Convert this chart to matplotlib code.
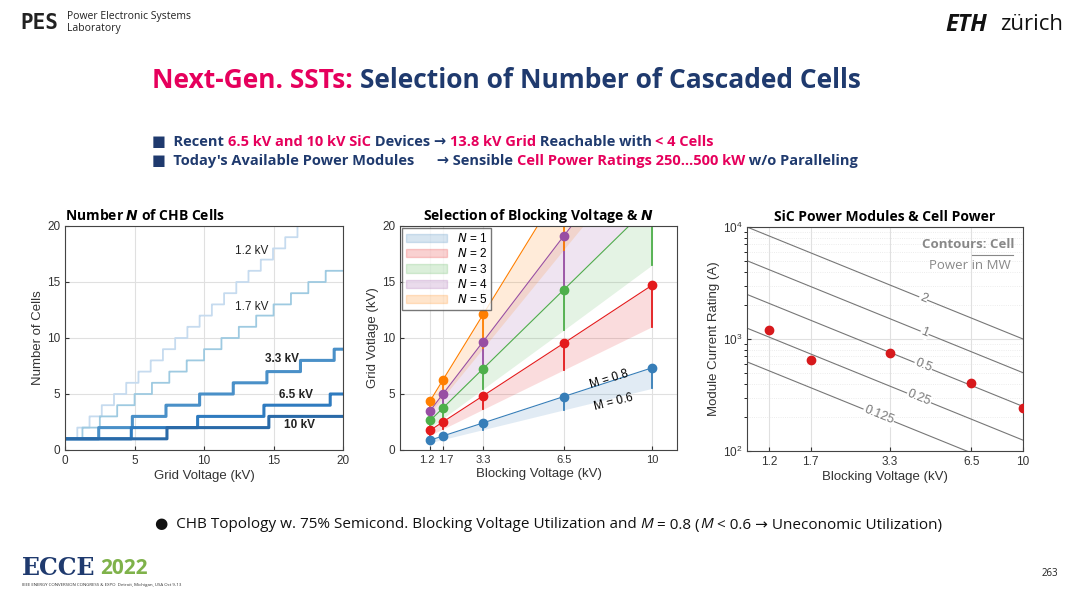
import matplotlib
matplotlib.use("Agg")
import matplotlib.pyplot as plt
import matplotlib.transforms as mtrans
import numpy as np
from matplotlib.patches import Patch

plt.rcParams['font.family'] = ['Open Sans', 'DejaVu Sans']

# ---------------- data ----------------
blocking_kv = [1.2, 1.7, 3.3, 6.5, 10]
blocking_labels = ['1.2', '1.7', '3.3', '6.5', '10']
# per-cell grid voltage (kV) at M = 0.8 (top) and M = 0.6 (bottom)
grid_top = {1: [0.88, 1.25, 2.42, 4.77, 7.33],
            2: [1.76, 2.50, 4.84, 9.53, 14.7],
            3: [2.64, 3.74, 7.26, 14.3, 22.0],
            4: [3.52, 4.99, 9.68, 19.1, 29.3],
            5: [4.40, 6.24, 12.1, 23.8, 36.7]}
grid_bot = {1: [0.66, 0.94, 1.82, 3.58, 5.50],
            2: [1.32, 1.87, 3.63, 7.15, 11.0],
            3: [1.98, 2.81, 5.45, 10.7, 16.5],
            4: [2.64, 3.74, 7.26, 14.3, 22.0],
            5: [3.30, 4.68, 9.08, 17.9, 27.5]}
chb_labels = ['1.2 kV', '1.7 kV', '3.3 kV', '6.5 kV', '10 kV']
module_current = [1200, 655, 750, 404, 242]
contour_mw = [2, 1, 0.5, 0.25, 0.125]
contour_label_v = [4.35, 4.4, 4.35, 4.2, 3.0]

set1 = {1: '#377eb8', 2: '#e41a1c', 3: '#4daf4a', 4: '#984ea3', 5: '#ff7f00'}
pink = '#e6005c'
navy = '#1f3a6e'
AX_FONT = ['Liberation Sans', 'DejaVu Sans']

fig = plt.figure(figsize=(10.8, 5.95), dpi=100)
W, H = 1080, 595

def ax_px(x0, x1, ytop, ybot):
    return fig.add_axes([x0 / W, (H - ybot) / H, (x1 - x0) / W, (ybot - ytop) / H])

def seq_text(x, y, parts, size, weight='bold'):
    r = fig.canvas.get_renderer()
    cx = x / W
    for txt, col, sty in parts:
        t = fig.text(cx, 1 - y / H, txt, color=col, fontsize=size, weight=weight,
                     style=sty, va='center', ha='left')
        bb = t.get_window_extent(renderer=r)
        cx += bb.width / W

# ---------------- header ----------------
fig.text(20 / W, 1 - 23 / H, 'PES', fontsize=15, weight='bold', color='#222222', va='center',
         family='DejaVu Sans Mono')
fig.text(67 / W, 1 - 17 / H, 'Power Electronic Systems', fontsize=7.5, color='#222222', va='center')
fig.text(67 / W, 1 - 29 / H, 'Laboratory', fontsize=7.5, color='#222222', va='center')
seq_text(945, 25, [('ETH', '#111111', 'italic')], 17)
seq_text(1000, 25, [('zürich', '#111111', 'normal')], 16, weight='normal')

seq_text(152, 80, [('Next-Gen. SSTs: ', pink, 'normal'),
                   ('Selection of Number of Cascaded Cells', navy, 'normal')], 19)

seq_text(152, 142, [('■  Recent ', navy, 'normal'), ('6.5 kV and 10 kV SiC', pink, 'normal'),
                    (' Devices → ', navy, 'normal'), ('13.8 kV Grid', pink, 'normal'),
                    (' Reachable with ', navy, 'normal'), ('< 4 Cells', pink, 'normal')], 10.5)
seq_text(152, 161, [('■  Today\'s Available Power Modules      → Sensible ', navy, 'normal'),
                    ('Cell Power Ratings 250…500 kW', pink, 'normal'),
                    (' w/o Paralleling', navy, 'normal')], 10.5)

seq_text(155, 525, [('●  CHB Topology w. 75% Semicond. Blocking Voltage Utilization and ', '#111111', 'normal'),
                    ('M', '#111111', 'italic'), (' = 0.8 (', '#111111', 'normal'),
                    ('M', '#111111', 'italic'),
                    (' < 0.6 → Uneconomic Utilization)', '#111111', 'normal')], 11, weight='normal')
fig.text(1058 / W, 1 - 573 / H, '263', fontsize=7, ha='right', va='center', color='#222222')
fig.text(22 / W, 1 - 568 / H, 'ECCE', fontsize=17, weight='bold', color='#1f3a6e', va='center',
         family='DejaVu Serif')
fig.text(100 / W, 1 - 568 / H, '2022', fontsize=15, weight='bold', color='#7fb24a', va='center')
fig.text(22 / W, 1 - 585 / H, 'IEEE ENERGY CONVERSION CONGRESS & EXPO  Detroit, Michigan, USA Oct 9-13',
         fontsize=3.2, color='#333333', va='center')

def style_axes(ax, xlabel, ylabel):
    ax.tick_params(labelsize=8.5, colors='#333333', direction='in', length=3)
    for lab in ax.get_xticklabels() + ax.get_yticklabels():
        lab.set_family(AX_FONT)
    ax.set_xlabel(xlabel, fontsize=9.5, color='#333333', labelpad=2, family=AX_FONT)
    ax.set_ylabel(ylabel, fontsize=9.5, color='#333333', labelpad=2, family=AX_FONT)
    for s in ax.spines.values():
        s.set_color('#444444'); s.set_linewidth(0.8)

# ---------------- panel 1 ----------------
ax1 = ax_px(65, 343, 226, 450)
vg = np.linspace(0, 20, 4001)
widths = [1.3, 1.3, 2.2, 2.2, 2.2]
cols1 = ['#c6dbef', '#9ecae1', '#4a90c8', '#2f7bbf', '#2a6aa8']
for v, lw, c in zip(grid_top.get(1), widths, cols1):
    n = np.maximum(1, np.ceil(vg / v))
    ax1.plot(vg, n, color=c, lw=lw, drawstyle='steps-post')
lbl_pos = [(13.4, 17.8, 'normal'), (13.4, 12.8, 'normal'), (15.6, 8.1, 'bold'),
           (16.6, 4.9, 'bold'), (16.9, 2.2, 'bold')]
for (x, y, w), s in zip(lbl_pos, chb_labels):
    ax1.text(x, y, s, fontsize=8.5, weight=w, ha='center', va='center', color='#222222',
             family=AX_FONT)
ax1.set_xlim(0, 20); ax1.set_ylim(0, 20)
ax1.set_xticks([0, 5, 10, 15, 20]); ax1.set_yticks([0, 5, 10, 15, 20])
ax1.grid(True, color='#e0e0e0', lw=0.8)
ax1.set_axisbelow(True)
style_axes(ax1, 'Grid Voltage (kV)', 'Number of Cells')
ax1.set_title('Number $\\boldsymbol{N}$ of CHB Cells', fontsize=10, weight='bold', loc='left',
              x=0.0, pad=4)

# ---------------- panel 2 ----------------
ax2 = ax_px(400, 677, 226, 450)
for n in range(1, 6):
    c = set1[n]
    ax2.fill_between(blocking_kv, grid_bot[n], grid_top[n], color=c, alpha=0.15, lw=0)
    ax2.plot(blocking_kv, grid_top[n], color=c, lw=0.8)
    for x, t, b in zip(blocking_kv, grid_top[n], grid_bot[n]):
        ax2.plot([x, x], [b, t], color=c, lw=1.3)
    ax2.plot(blocking_kv, grid_top[n], 'o', color=c, ms=6, zorder=5)
ax2.set_xlim(0, 11); ax2.set_ylim(0, 20)
ax2.set_xticks(blocking_kv); ax2.set_xticklabels(blocking_labels)
ax2.set_yticks([0, 5, 10, 15, 20])
ax2.grid(True, color='#e0e0e0', lw=0.8); ax2.set_axisbelow(True)
style_axes(ax2, 'Blocking Voltage (kV)', 'Grid Votlage (kV)')
xl2 = ax2.get_xticklabels()
for lab in xl2:
    lab.set_fontsize(8)
xl2[0].set_transform(xl2[0].get_transform() + mtrans.ScaledTranslation(-3 / 100, 0, fig.dpi_scale_trans))
xl2[1].set_transform(xl2[1].get_transform() + mtrans.ScaledTranslation(3 / 100, 0, fig.dpi_scale_trans))
ax2.set_title('Selection of Blocking Voltage & $\\boldsymbol{N}$', fontsize=10, weight='bold', pad=4)
handles = [Patch(color=set1[n], alpha=0.2, label=f'$N$ = {n}') for n in range(1, 6)]
leg = ax2.legend(handles=handles, loc='upper left', frameon=True, fancybox=False,
                 edgecolor='#555555', borderaxespad=0.2, handlelength=3.5, labelspacing=0.2,
                 borderpad=0.3, prop={'family': AX_FONT, 'size': 8.5})
ax2.text(8.3, 6.3, 'M = 0.8', rotation=17, fontsize=8.5, ha='center', va='center', family=AX_FONT)
ax2.text(8.5, 4.3, 'M = 0.6', rotation=14, fontsize=8.5, ha='center', va='center', family=AX_FONT)

# ---------------- panel 3 ----------------
ax3 = ax_px(747, 1023, 227, 451)
ax3.set_xscale('log'); ax3.set_yscale('log')
vv = np.logspace(0, 1, 50)
for p, xl in zip(contour_mw, contour_label_v):
    ax3.plot(vv, 5000 * p / vv, color='#777777', lw=0.8)
    ax3.text(xl, 5000 * p / xl, f'{p:g}', rotation=-22, fontsize=9, color='#777777',
             ha='center', va='center', family=AX_FONT,
             bbox=dict(facecolor='white', edgecolor='none', pad=0.5))
ax3.plot(blocking_kv, module_current, 'o', color='#d7191c', ms=6, zorder=5)
ax3.set_xlim(1, 10); ax3.set_ylim(100, 10000)
ax3.set_xticks(blocking_kv); ax3.set_xticklabels(blocking_labels)
ax3.xaxis.set_minor_locator(matplotlib.ticker.NullLocator())
ax3.grid(True, which='major', color='#e0e0e0', lw=0.8)
ax3.grid(True, which='minor', axis='y', color='#e6e6e6', lw=0.6, ls=':')
ax3.set_axisbelow(True)
style_axes(ax3, 'Blocking Voltage (kV)', 'Module Current Rating (A)')
ax3.set_title('SiC Power Modules & Cell Power', fontsize=10, weight='bold', pad=4)
ax3.text(0.97, 0.92, 'Contours: Cell', transform=ax3.transAxes, fontsize=9.5, weight='bold',
         color='#888888', ha='right', va='center')
ax3.plot([0.815, 0.965], [0.875, 0.875], transform=ax3.transAxes, color='#888888', lw=0.8)
ax3.text(0.955, 0.83, 'Power in MW', transform=ax3.transAxes, fontsize=9.5,
         color='#888888', ha='right', va='center')

fig.savefig('out.png', dpi=100)
